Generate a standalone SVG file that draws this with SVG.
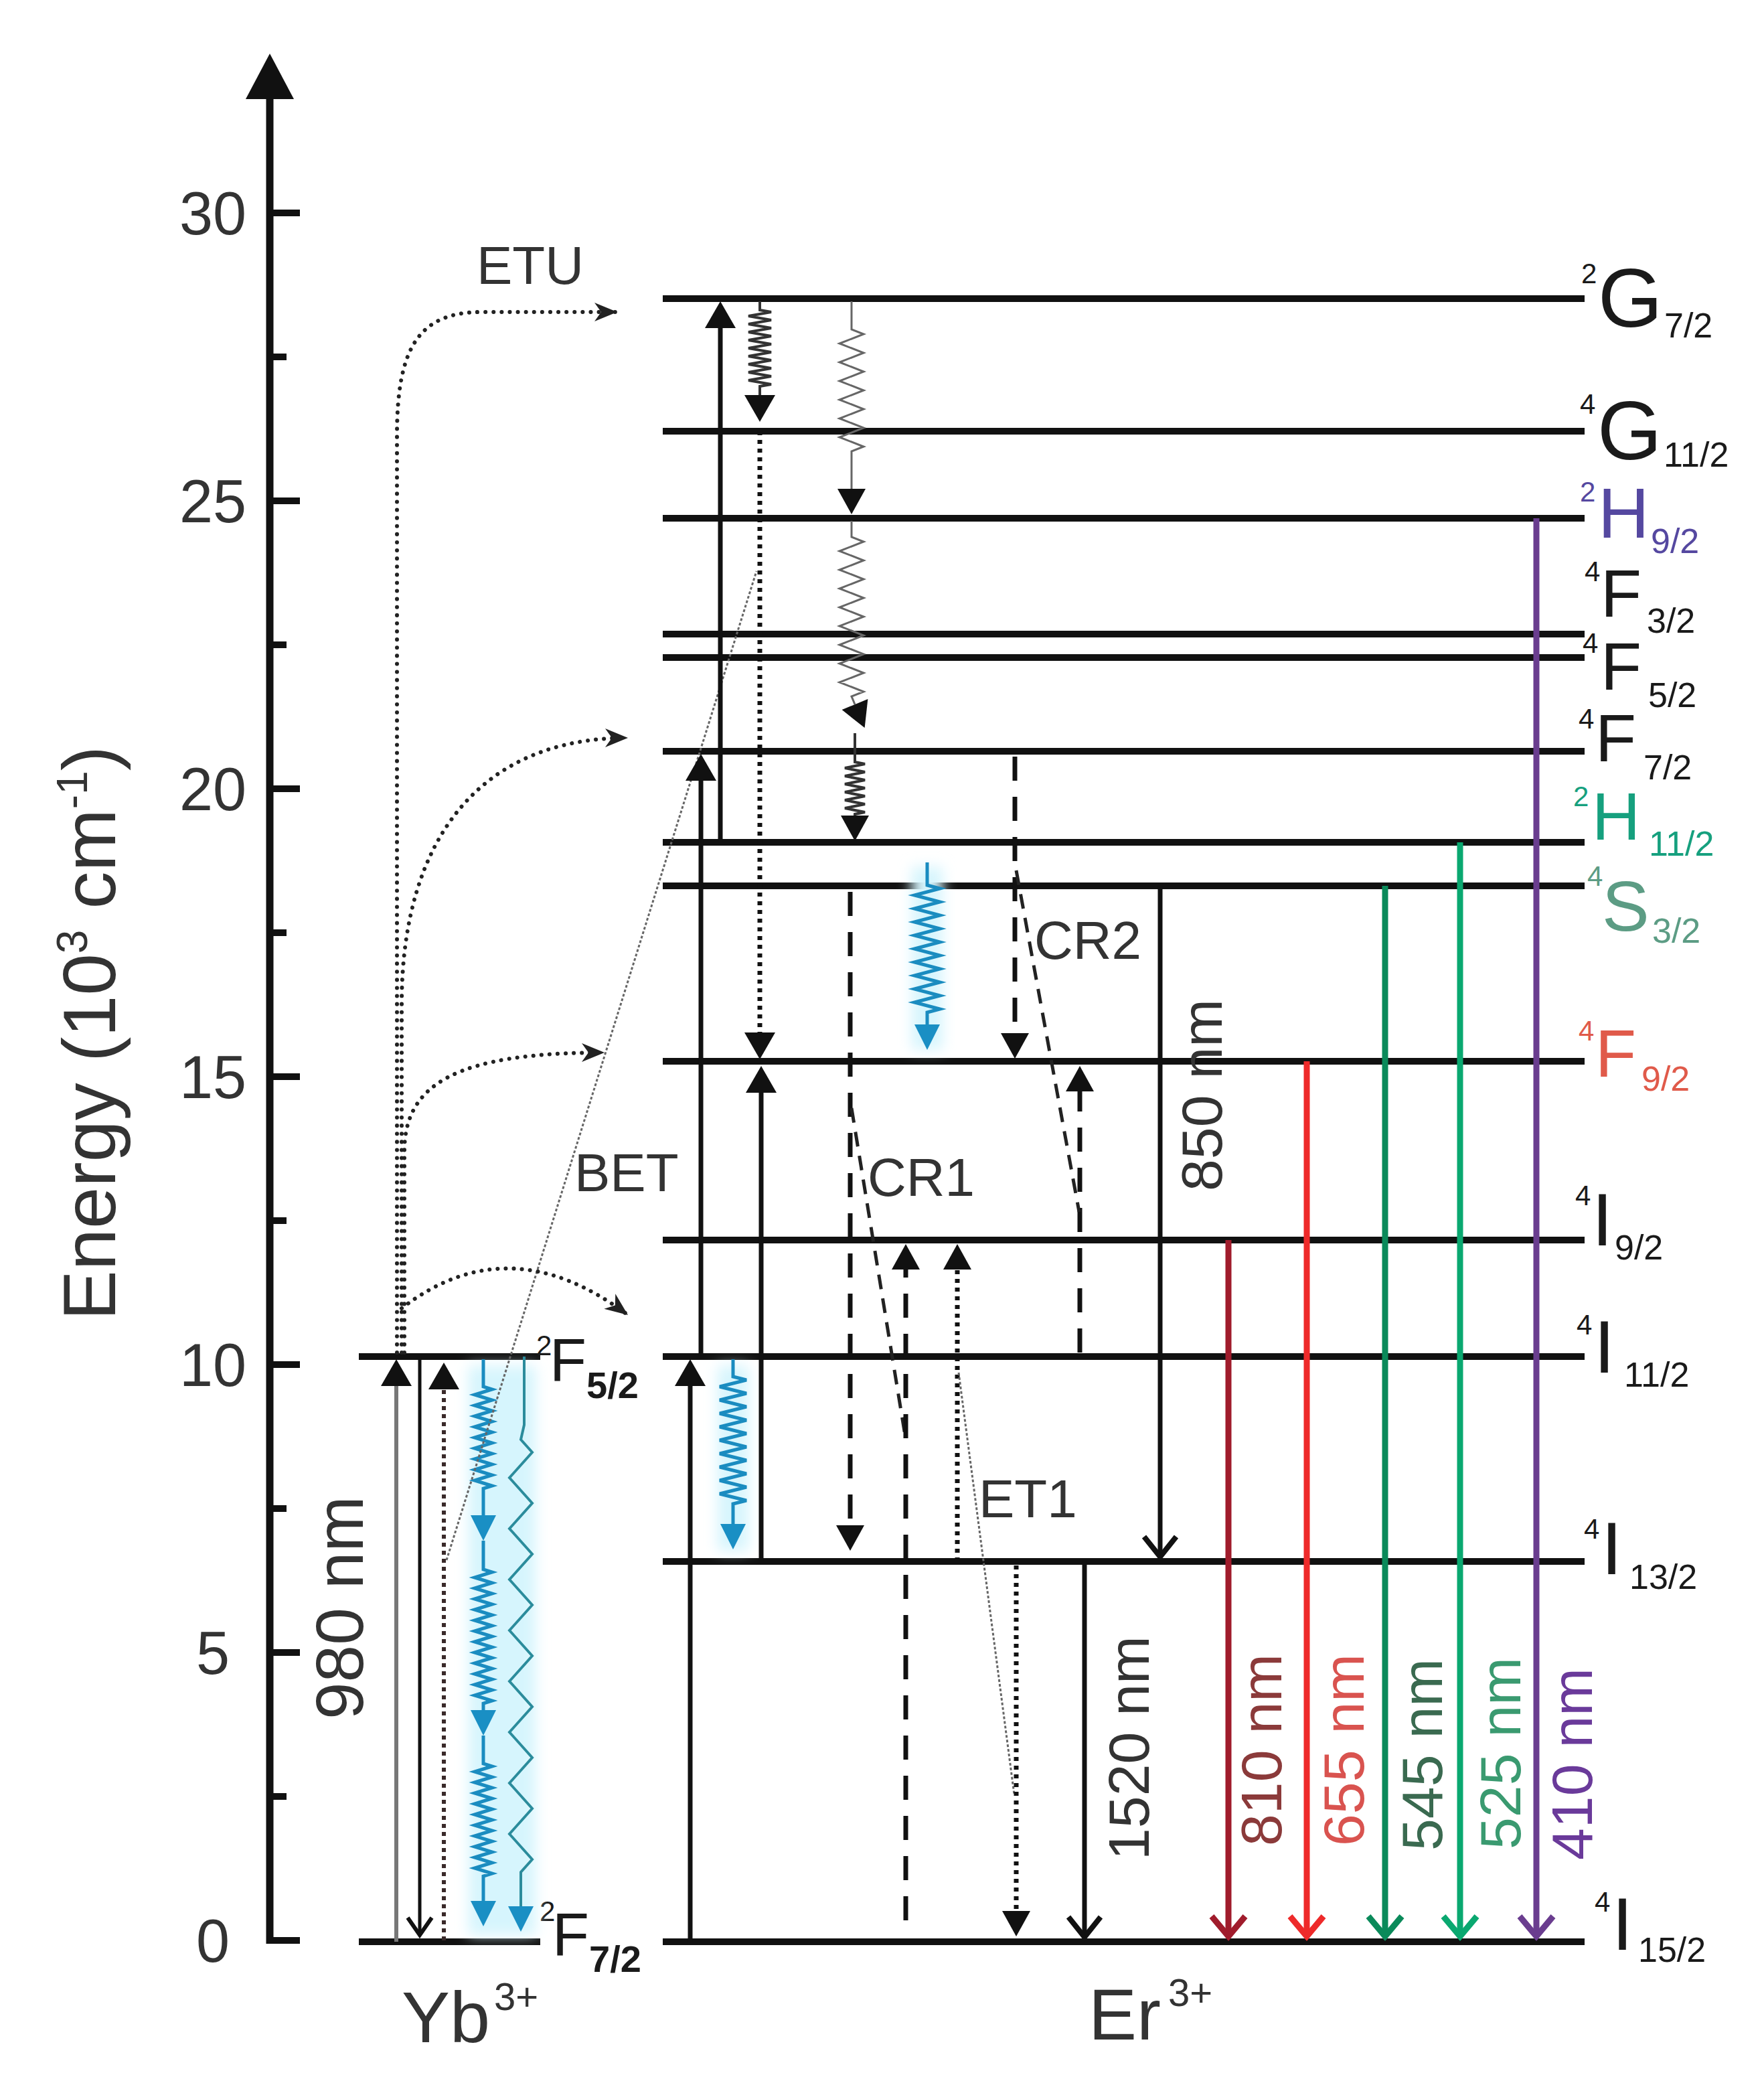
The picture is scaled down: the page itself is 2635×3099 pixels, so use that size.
<svg xmlns="http://www.w3.org/2000/svg" width="2635" height="3099" viewBox="0 0 2635 3099">
<style>
.t{font-family:"Liberation Sans",Arial,sans-serif;fill:#333}
.tick{font-size:90px;text-anchor:middle}
.lv{font-family:"Liberation Sans",Arial,sans-serif;fill:#1a1a1a}
.mg{font-size:124px}
.mf{font-size:100px}
.mh{font-size:106px}
.mi{font-size:112px}
.sp{font-size:42px}
.sb{font-size:52px}
.ym{font-size:90px}
.ysb{font-size:56px;font-weight:bold}
.proc{font-size:80px}
.wl{font-size:86px}
.lev{stroke:#111;stroke-width:10;fill:none}
.solid{stroke:#111;stroke-width:7;fill:none}
.dot{stroke:#111;stroke-width:7;stroke-dasharray:6 7;fill:none}
.dash{stroke:#111;stroke-width:7;stroke-dasharray:36 24;fill:none}
.link{stroke:#222;stroke-width:5;stroke-dasharray:22 14;fill:none}
.thin{stroke:#666;stroke-width:3;stroke-dasharray:4 3;fill:none}
.etu{stroke:#222;stroke-width:6;stroke-dasharray:0.1 12;stroke-linecap:round;fill:none}
.zb{stroke:#1a8cc0;stroke-width:5;fill:none}
.zt{stroke:#2b8c9c;stroke-width:4;fill:none}
.zg{stroke:#666;stroke-width:3;fill:none}
.zk{stroke:#333;stroke-width:4;fill:none}
.glow{fill:#d6f5fd;filter:url(#soft)}
.em{stroke-width:9;fill:none}
</style>
<defs>
<filter id="soft" x="-50%" y="-10%" width="200%" height="120%"><feGaussianBlur stdDeviation="10"/></filter>
<marker id="tk" markerUnits="userSpaceOnUse" orient="auto" overflow="visible" markerWidth="1" markerHeight="1"><path d="M40,0 L0,-23 L0,23 Z" fill="#111"/></marker>
<marker id="tks" markerUnits="userSpaceOnUse" orient="auto" overflow="visible" markerWidth="1" markerHeight="1"><path d="M38,0 L0,-21 L0,21 Z" fill="#111"/></marker>
<marker id="tb" markerUnits="userSpaceOnUse" orient="auto" overflow="visible" markerWidth="1" markerHeight="1"><path d="M38,0 L0,-19 L0,19 Z" fill="#1a8fc4"/></marker>
<marker id="ck" markerUnits="userSpaceOnUse" orient="auto" overflow="visible" markerWidth="1" markerHeight="1"><path d="M-30,-24 L0,0 L-30,24" fill="none" stroke="#111" stroke-width="8"/></marker>
<marker id="cks" markerUnits="userSpaceOnUse" orient="auto" overflow="visible" markerWidth="1" markerHeight="1"><path d="M-26,-18 L0,0 L-26,18" fill="none" stroke="#111" stroke-width="6"/></marker>
<marker id="c810" markerUnits="userSpaceOnUse" orient="auto" overflow="visible" markerWidth="1" markerHeight="1"><path d="M-30,-25 L0,0 L-30,25" fill="none" stroke="#a01c2c" stroke-width="9"/></marker>
<marker id="c655" markerUnits="userSpaceOnUse" orient="auto" overflow="visible" markerWidth="1" markerHeight="1"><path d="M-30,-25 L0,0 L-30,25" fill="none" stroke="#ee2a2a" stroke-width="9"/></marker>
<marker id="c545" markerUnits="userSpaceOnUse" orient="auto" overflow="visible" markerWidth="1" markerHeight="1"><path d="M-30,-25 L0,0 L-30,25" fill="none" stroke="#0a8a5a" stroke-width="9"/></marker>
<marker id="c525" markerUnits="userSpaceOnUse" orient="auto" overflow="visible" markerWidth="1" markerHeight="1"><path d="M-30,-25 L0,0 L-30,25" fill="none" stroke="#0aa870" stroke-width="9"/></marker>
<marker id="c410" markerUnits="userSpaceOnUse" orient="auto" overflow="visible" markerWidth="1" markerHeight="1"><path d="M-30,-25 L0,0 L-30,25" fill="none" stroke="#6a3d8f" stroke-width="9"/></marker>
<marker id="dart" markerUnits="userSpaceOnUse" orient="auto" overflow="visible" markerWidth="1" markerHeight="1"><path d="M0,0 L-34,-14 L-24,0 L-34,14 Z" fill="#222"/></marker>
</defs>
<rect width="2635" height="3099" fill="#fff"/>

<g id="axis">
<line x1="403" y1="140" x2="403" y2="2903" stroke="#111" stroke-width="11"/>
<polygon points="403,80 367,148 439,148" fill="#111"/>
<g stroke="#111" stroke-width="10">
<line x1="403" y1="318" x2="448" y2="318"/><line x1="403" y1="533" x2="428" y2="533"/>
<line x1="403" y1="748" x2="448" y2="748"/><line x1="403" y1="963" x2="428" y2="963"/>
<line x1="403" y1="1178" x2="448" y2="1178"/><line x1="403" y1="1393" x2="428" y2="1393"/>
<line x1="403" y1="1608" x2="448" y2="1608"/><line x1="403" y1="1823" x2="428" y2="1823"/>
<line x1="403" y1="2038" x2="448" y2="2038"/><line x1="403" y1="2253" x2="428" y2="2253"/>
<line x1="403" y1="2468" x2="448" y2="2468"/><line x1="403" y1="2683" x2="428" y2="2683"/>
<line x1="398" y1="2898" x2="448" y2="2898"/>
</g>
<text class="t tick" x="318" y="350">30</text>
<text class="t tick" x="318" y="780">25</text>
<text class="t tick" x="318" y="1210">20</text>
<text class="t tick" x="318" y="1640">15</text>
<text class="t tick" x="318" y="2070">10</text>
<text class="t tick" x="318" y="2500">5</text>
<text class="t tick" x="318" y="2930">0</text>
<text class="t" font-size="112" transform="translate(172,1972) rotate(-90)">Energy (10<tspan font-size="64" dy="-42">3</tspan><tspan dy="42"> cm</tspan><tspan font-size="64" dy="-42">-1</tspan><tspan dy="42">)</tspan></text>
</g>

<g id="yb-2F52">
<line class="lev" x1="536" y1="2026" x2="807" y2="2026"/>
<text class="lv"><tspan class="sp" x="801" y="2024">2</tspan><tspan class="ym" x="821" y="2062">F</tspan><tspan class="ysb" x="876" y="2088">5/2</tspan></text>
</g>
<g id="yb-2F72">
<line class="lev" x1="536" y1="2900" x2="807" y2="2900"/>
<text class="lv"><tspan class="sp" x="806" y="2869">2</tspan><tspan class="ym" x="825" y="2920">F</tspan><tspan class="ysb" x="880" y="2945">7/2</tspan></text>
</g>
<g id="label-yb"><text class="t" font-size="108" x="600" y="3050">Yb<tspan font-size="58" x="738" y="3002">3+</tspan></text></g>

<g id="er-2G72"><line class="lev" x1="990" y1="446" x2="2367" y2="446"/>
<text class="lv"><tspan class="sp" x="2362" y="423">2</tspan><tspan class="mg" x="2387" y="488">G</tspan><tspan class="sb" x="2486" y="504">7/2</tspan></text></g>
<g id="er-4G112"><line class="lev" x1="990" y1="644" x2="2367" y2="644"/>
<text class="lv"><tspan class="sp" x="2360" y="618">4</tspan><tspan class="mg" x="2386" y="686">G</tspan><tspan class="sb" x="2485" y="697">11/2</tspan></text></g>
<g id="er-2H92"><line class="lev" x1="990" y1="774" x2="2367" y2="774"/>
<text class="lv" style="fill:#5548a0"><tspan class="sp" x="2360" y="749">2</tspan><tspan class="mh" x="2387" y="803">H</tspan><tspan class="sb" x="2466" y="826">9/2</tspan></text></g>
<g id="er-4F32"><line class="lev" x1="990" y1="947" x2="2367" y2="947"/>
<text class="lv"><tspan class="sp" x="2367" y="868">4</tspan><tspan class="mf" x="2391" y="921">F</tspan><tspan class="sb" x="2460" y="945">3/2</tspan></text></g>
<g id="er-4F52"><line class="lev" x1="990" y1="982" x2="2367" y2="982"/>
<text class="lv"><tspan class="sp" x="2364" y="975">4</tspan><tspan class="mf" x="2391" y="1030">F</tspan><tspan class="sb" x="2462" y="1056">5/2</tspan></text></g>
<g id="er-4F72"><line class="lev" x1="990" y1="1122" x2="2367" y2="1122"/>
<text class="lv"><tspan class="sp" x="2358" y="1088">4</tspan><tspan class="mf" x="2383" y="1137">F</tspan><tspan class="sb" x="2455" y="1164">7/2</tspan></text></g>
<g id="er-2H112"><line class="lev" x1="990" y1="1258" x2="2367" y2="1258"/>
<text class="lv" style="fill:#16a07e"><tspan class="sp" x="2350" y="1204">2</tspan><tspan class="mf" x="2378" y="1254">H</tspan><tspan class="sb" x="2463" y="1278">11/2</tspan></text></g>
<g id="er-4S32"><line class="lev" x1="990" y1="1323" x2="2367" y2="1323"/>
<text class="lv" style="fill:#5c9c84"><tspan class="sp" x="2371" y="1323">4</tspan><tspan class="mh" x="2393" y="1390">S</tspan><tspan class="sb" x="2468" y="1408">3/2</tspan></text></g>
<g id="er-4F92"><line class="lev" x1="990" y1="1585" x2="2367" y2="1585"/>
<text class="lv" style="fill:#e05a4a"><tspan class="sp" x="2358" y="1554">4</tspan><tspan class="mf" x="2383" y="1608">F</tspan><tspan class="sb" x="2452" y="1629">9/2</tspan></text></g>
<g id="er-4I92"><line class="lev" x1="990" y1="1852" x2="2367" y2="1852"/>
<text class="lv"><tspan class="sp" x="2353" y="1800">4</tspan><tspan class="mi" x="2378" y="1860">I</tspan><tspan class="sb" x="2412" y="1881">9/2</tspan></text></g>
<g id="er-4I112"><line class="lev" x1="990" y1="2026" x2="2367" y2="2026"/>
<text class="lv"><tspan class="sp" x="2355" y="1993">4</tspan><tspan class="mi" x="2381" y="2050">I</tspan><tspan class="sb" x="2426" y="2071">11/2</tspan></text></g>
<g id="er-4I132"><line class="lev" x1="990" y1="2332" x2="2367" y2="2332"/>
<text class="lv"><tspan class="sp" x="2366" y="2298">4</tspan><tspan class="mi" x="2392" y="2351">I</tspan><tspan class="sb" x="2434" y="2373">13/2</tspan></text></g>
<g id="er-4I152"><line class="lev" x1="990" y1="2900" x2="2367" y2="2900"/>
<text class="lv"><tspan class="sp" x="2382" y="2855">4</tspan><tspan class="mi" x="2408" y="2912">I</tspan><tspan class="sb" x="2447" y="2930">15/2</tspan></text></g>
<g id="label-er"><text class="t" font-size="108" x="1626" y="3046">Er<tspan font-size="58" x="1745" y="2996">3+</tspan></text></g>

<g id="connectors">
<rect class="glow" x="700" y="2040" width="100" height="850"/>
<rect class="glow" x="1072" y="2040" width="46" height="276"/>
<rect class="glow" x="1362" y="1295" width="46" height="272"/>
<!-- Yb -->
<line x1="592" y1="2900" x2="592" y2="2070" stroke="#777" stroke-width="6" marker-end="url(#tk)"/>
<line x1="627" y1="2026" x2="627" y2="2890" stroke="#111" stroke-width="5" marker-end="url(#cks)"/>
<line x1="663" y1="2898" x2="663" y2="2075" stroke="#3a2a2a" stroke-width="6" stroke-dasharray="6 6" marker-end="url(#tk)"/>
<path class="zb" d="M722,2030 V2071 l13,4 l-26,8 l26,8 l-26,8 l26,8 l-26,8 l26,8 l-26,8 l26,8 l-26,8 l26,8 l-26,8 l26,8 l-26,8 l26,8 l-26,8 l26,8 l-26,8 l26,8 l-13,4 V2263" marker-end="url(#tb)"/>
<path class="zb" d="M722,2301 V2344 l13,4 l-26,8 l26,8 l-26,8 l26,8 l-26,8 l26,8 l-26,8 l26,8 l-26,8 l26,8 l-26,8 l26,8 l-26,8 l26,8 l-26,8 l26,8 l-26,8 l26,8 l-26,8 l26,8 l-26,8 l26,8 l-26,8 l26,8 l-13,4 V2554" marker-end="url(#tb)"/>
<path class="zb" d="M722,2592 V2634 l13,4 l-26,8 l26,8 l-26,8 l26,8 l-26,8 l26,8 l-26,8 l26,8 l-26,8 l26,8 l-26,8 l26,8 l-26,8 l26,8 l-26,8 l26,8 l-26,8 l26,8 l-26,8 l26,8 l-13,4 V2839" marker-end="url(#tb)"/>
<path class="zt" d="M783,2026 V2128 L778,2150 l17,19 l-34,38 l34,38 l-34,38 l34,38 l-34,38 l34,38 l-34,38 l34,38 l-34,38 l34,38 l-34,38 l34,38 l-34,38 l34,38 l-34,38 l34,38 l-17,19 V2847" marker-end="url(#tb)"/>
<line class="thin" x1="667" y1="2330" x2="1130" y2="853"/>
<!-- ETU -->
<path class="etu" d="M593,2020 V650 C593,520 625,466 720,466 L922,466" marker-end="url(#dart)"/>
<path class="etu" d="M600,2020 V1500 C600,1250 720,1102 938,1102" marker-end="url(#dart)"/>
<path class="etu" d="M604,2020 V1720 C604,1620 680,1572 903,1572" marker-end="url(#dart)"/>
<path class="etu" d="M600,1954 Q760,1830 938,1964" marker-end="url(#dart)"/>
<!-- Er -->
<line class="solid" x1="1031" y1="2900" x2="1031" y2="2070" marker-end="url(#tk)"/>
<line class="solid" x1="1047" y1="2026" x2="1047" y2="1166" marker-end="url(#tk)"/>
<line class="solid" x1="1076" y1="1258" x2="1076" y2="490" marker-end="url(#tk)"/>
<path class="zk" d="M1135,450 V463 l17,3 l-34,6 l34,6 l-34,6 l34,6 l-34,6 l34,6 l-34,6 l34,6 l-34,6 l34,6 l-34,6 l34,6 l-34,6 l34,6 l-34,6 l34,6 l-34,6 l34,6 l-17,3 V590" marker-end="url(#tk)"/>
<line class="dot" x1="1135" y1="644" x2="1135" y2="1542" marker-end="url(#tk)"/>
<line class="solid" x1="1137" y1="2332" x2="1137" y2="1632" marker-end="url(#tk)"/>
<path class="zb" d="M1095,2030 V2056 l20,5 l-40,10 l40,10 l-40,10 l40,10 l-40,10 l40,10 l-40,10 l40,10 l-40,10 l40,10 l-40,10 l40,10 l-40,10 l40,10 l-40,10 l40,10 l-40,10 l40,10 l-20,5 V2276" marker-end="url(#tb)"/>
<path class="zg" d="M1272,450 V492 l18,7 l-36,14 l36,14 l-36,14 l36,14 l-36,14 l36,14 l-36,14 l36,14 l-36,14 l36,14 l-36,14 l36,14 l-18,7 L1272,730" marker-end="url(#tks)"/>
<path class="zg" d="M1272,778 V802 l18,7 l-36,14 l36,14 l-36,14 l36,14 l-36,14 l36,14 l-36,14 l36,14 l-36,14 l36,14 l-36,14 l36,14 l-36,14 l36,14 l-36,14 l36,14 l-18,7 L1277,1052" marker-end="url(#tks)"/>
<path class="zk" d="M1277,1095 V1138 l15,3 l-30,6 l30,6 l-30,6 l30,6 l-30,6 l30,6 l-30,6 l30,6 l-30,6 l30,6 l-30,6 l30,6 l-15,3 V1218" marker-end="url(#tks)"/>
<path class="zb" d="M1385,1288 V1322 l19,5 l-38,10 l38,10 l-38,10 l38,10 l-38,10 l38,10 l-38,10 l38,10 l-38,10 l38,10 l-38,10 l38,10 l-38,10 l38,10 l-38,10 l38,10 l-38,10 l38,10 l-19,5 V1530" marker-end="url(#tb)"/>
<line class="dash" x1="1270" y1="1332" x2="1270" y2="2278" marker-end="url(#tks)"/>
<line class="link" x1="1272" y1="1655" x2="1353" y2="2150"/>
<line class="dash" x1="1353" y1="2868" x2="1353" y2="1896" marker-end="url(#tks)"/>
<line class="dot" x1="1430" y1="2332" x2="1430" y2="1896" marker-end="url(#tks)"/>
<line class="thin" x1="1432" y1="2050" x2="1515" y2="2680"/>
<line class="dot" x1="1518" y1="2338" x2="1518" y2="2854" marker-end="url(#tks)"/>
<line class="dash" x1="1516" y1="1130" x2="1516" y2="1543" marker-end="url(#tks)"/>
<line class="dash" x1="1613" y1="2020" x2="1613" y2="1630" marker-end="url(#tks)"/>
<line class="link" x1="1518" y1="1300" x2="1612" y2="1810"/>
<line class="solid" x1="1733" y1="1323" x2="1733" y2="2325" marker-end="url(#ck)"/>
<line class="solid" x1="1620" y1="2332" x2="1620" y2="2893" marker-end="url(#ck)"/>
<!-- emissions -->
<line class="em" stroke="#a01c2c" x1="1835" y1="1852" x2="1835" y2="2892" marker-end="url(#c810)"/>
<line class="em" stroke="#ee2a2a" x1="1952" y1="1585" x2="1952" y2="2892" marker-end="url(#c655)"/>
<line class="em" stroke="#0a8a5a" x1="2069" y1="1323" x2="2069" y2="2892" marker-end="url(#c545)"/>
<line class="em" stroke="#0aa870" x1="2181" y1="1258" x2="2181" y2="2892" marker-end="url(#c525)"/>
<line class="em" stroke="#6a3d8f" x1="2295" y1="774" x2="2295" y2="2892" marker-end="url(#c410)"/>
</g>

<g id="connector-labels">
<text class="t proc" x="712" y="424">ETU</text>
<text class="t proc" x="858" y="1779">BET</text>
<text class="t proc" x="1296" y="1786">CR1</text>
<text class="t proc" x="1545" y="1432">CR2</text>
<text class="t proc" x="1462" y="2266">ET1</text>
<text class="t" font-size="100" transform="translate(542,2568) rotate(-90)">980 nm</text>
<text class="t wl" transform="translate(1825,1779) rotate(-90)">850 nm</text>
<text class="t wl" transform="translate(1716,2778) rotate(-90)">1520 nm</text>
<text class="t wl" style="fill:#8b3a3a" transform="translate(1914,2757) rotate(-90)">810 nm</text>
<text class="t wl" style="fill:#d9534f" transform="translate(2037,2757) rotate(-90)">655 nm</text>
<text class="t wl" style="fill:#3a6a50" transform="translate(2154,2764) rotate(-90)">545 nm</text>
<text class="t wl" style="fill:#3a9a70" transform="translate(2271,2762) rotate(-90)">525 nm</text>
<text class="t wl" style="fill:#6a3a9a" transform="translate(2378,2778) rotate(-90)">410 nm</text>
</g>
</svg>
